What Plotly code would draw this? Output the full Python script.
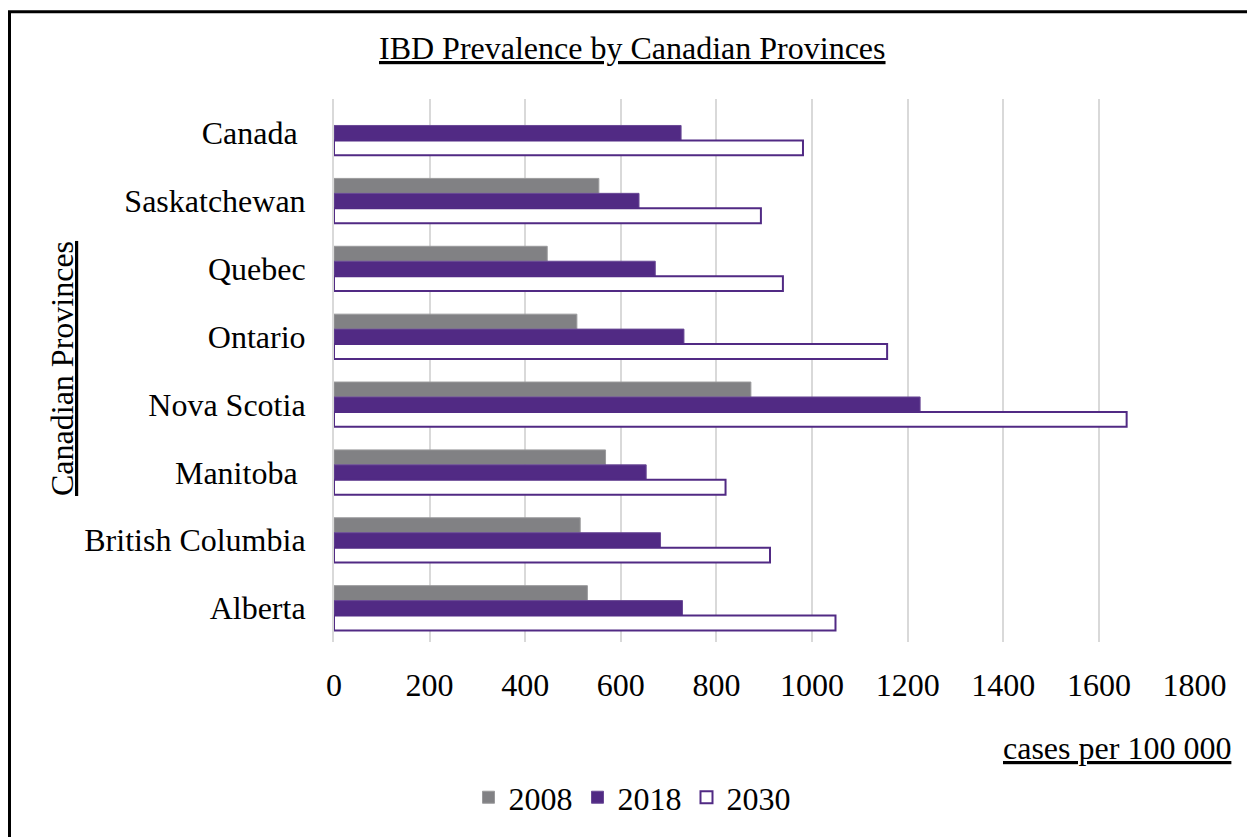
import plotly.graph_objects as go

# ---- data ----
provinces = ["Canada", "Saskatchewan", "Quebec", "Ontario", "Nova Scotia",
             "Manitoba", "British Columbia", "Alberta"]
tick_text = ["Canada\u00a0", "Saskatchewan", "Quebec", "Ontario", "Nova Scotia",
             "Manitoba\u00a0", "British Columbia", "Alberta"]
years = ["2008", "2018", "2030"]
prev_2008 = [None, 554, 446, 508, 872, 568, 515, 530]
prev_2018 = [726, 638, 672, 732, 1226, 653, 683, 729]
prev_2030 = [981, 893, 939, 1157, 1658, 819, 912, 1049]
x_ticks = [0, 200, 400, 600, 800, 1000, 1200, 1400, 1600, 1800]

FONT = "Liberation Serif, Times New Roman, serif"
FS = 32
GRAY = "#818184"
PURPLE = "#512a84"

fig = go.Figure()
fig.add_trace(go.Bar(name=years[0], y=provinces, x=prev_2008, orientation="h",
                     marker=dict(color=GRAY, line=dict(color="#9a9a9c", width=1))))
fig.add_trace(go.Bar(name=years[1], y=provinces, x=prev_2018, orientation="h",
                     marker=dict(color=PURPLE, line=dict(color="#6a4a96", width=1))))
fig.add_trace(go.Bar(name=years[2], y=provinces, x=prev_2030, orientation="h",
                     marker=dict(color="white", line=dict(color=PURPLE, width=2))))

# page body has an 8px margin; work in screen coordinates and shift
OFF = 8
W, H = 1255 - OFF, 837 - OFF
L, R, T, B = 334, 1195, 99, 644          # screen coords of plot area
pw, ph = R - L, B - T

def px(xs):
    return (xs - L) / pw

def py(ys):
    return (B - ys) / ph

fig.update_layout(
    width=W, height=H,
    margin=dict(l=L - OFF, r=W - (R - OFF), t=T - OFF, b=H - (B - OFF), pad=0),
    paper_bgcolor="white", plot_bgcolor="white",
    font=dict(family=FONT, size=FS, color="black"),
    barmode="group", bargap=0.34, bargroupgap=0,
    showlegend=True,
    legend=dict(orientation="h", x=px(632), y=py(800), xanchor="center", yanchor="middle",
                font=dict(family=FONT, size=FS), bgcolor="rgba(0,0,0,0)",
                traceorder="normal", itemwidth=30),
    xaxis=dict(range=[0, 1801], tickvals=x_ticks, showgrid=True, gridcolor="#d9d9d9",
               gridwidth=2, zeroline=False, showline=False, ticks="",
               ticklabelstandoff=21, tickfont=dict(family=FONT, size=FS)),
    yaxis=dict(categoryorder="array", categoryarray=provinces, autorange="reversed",
               tickvals=provinces, ticktext=tick_text,
               showgrid=False, zeroline=False, showline=True, linecolor="#d9d9d9",
               linewidth=2, ticks="", ticklabelstandoff=20,
               tickfont=dict(family=FONT, size=FS)),
    shapes=[dict(type="rect", xref="paper", yref="paper",
                 x0=px(9.5), x1=px(1251.5), y0=py(850), y1=py(11.5),
                 line=dict(color="black", width=3), fillcolor="rgba(0,0,0,0)",
                 layer="above")],
    annotations=[
        dict(text="<u>IBD Prevalence by Canadian Provinces</u>", xref="paper", yref="paper",
             x=px(632), y=py(48), xanchor="center", yanchor="middle", showarrow=False,
             font=dict(family=FONT, size=FS)),
        dict(text="<u>Canadian Provinces</u>", xref="paper", yref="paper",
             x=px(62), y=py(370), xanchor="center", yanchor="middle", showarrow=False,
             textangle=-90, font=dict(family=FONT, size=FS)),
        dict(text="<u>cases per 100 000</u>", xref="paper", yref="paper",
             x=px(1233), y=py(750), xanchor="right", yanchor="middle", showarrow=False,
             font=dict(family=FONT, size=FS)),
    ],
)

fig.write_html("out.html")
